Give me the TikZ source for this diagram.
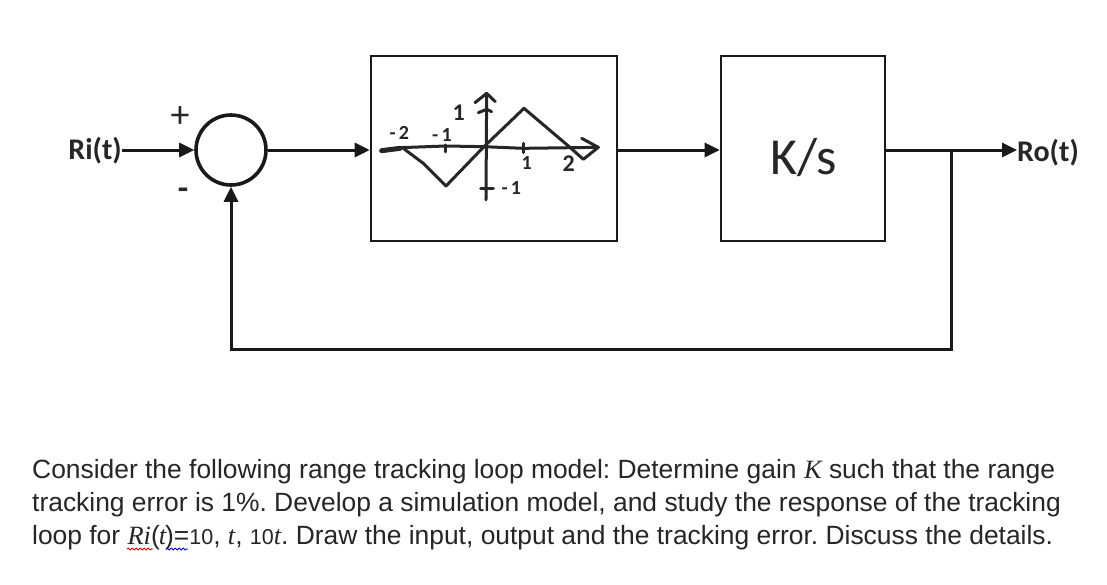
\documentclass[tikz,border=0pt]{standalone}
\usepackage{fontspec}
\setmainfont{Liberation Sans}
\newfontfamily\lblfont{Carlito}
\newfontfamily\mathserif{Liberation Serif}
\usetikzlibrary{arrows.meta,decorations.pathmorphing}
\newcommand{\mv}[1]{{\mathserif\itshape #1}}
\newcommand{\smalldigits}[1]{{\fontsize{21.5}{21.5}\selectfont #1}}
\tikzset{
  blockbox/.style={draw=black!90,line width=2.6pt,inner sep=0pt,fill=white},
  sumnode/.style={draw=black!90,line width=3.6pt,circle,minimum size=70pt,inner sep=0pt},
  wire/.style={draw=black!90,line width=3pt},
  arrowwire/.style={wire,-{Triangle[length=15pt,width=14pt]}},
  lbl/.style={font=\lblfont\bfseries\fontsize{30}{30}\selectfont,text=black!85,inner sep=0pt},
  sign/.style={font=\lblfont\fontsize{38}{38}\selectfont,text=black!85,inner sep=0pt},
  sketch/.style={draw=black!85,line width=3pt,line join=round,line cap=round},
  hand/.style={font=\lblfont\bfseries\fontsize{20}{20}\selectfont,text=black!85,inner sep=0pt},
  para/.style={anchor=west,inner sep=0pt,text=black!85,font=\fontsize{26.4}{26.4}\selectfont},
  squig/.style={line width=.9pt,decorate,decoration={snake,amplitude=.9pt,segment length=4pt}}
}
\begin{document}
\frenchspacing
\begin{tikzpicture}[x=1pt,y=-1pt]
\useasboundingbox (0,0) rectangle (1107,584);
\fill[white] (0,0) rectangle (1107,584);
% blocks
\node[sumnode] (sum) at (231,150) {};
\node[blockbox,minimum width=246pt,minimum height=185pt] (nl) at (494,148.5) {};
\node[blockbox,minimum width=164pt,minimum height=185pt] (ks) at (803,148.5) {};
\node[font=\lblfont\fontsize{52}{52}\selectfont,text=black!85,inner sep=0pt] (kstext) at (804,158) {K/s};
\node[lbl,anchor=east] (ri) at (122,151) {Ri(t)};
\node[lbl,anchor=west] (ro) at (1017,153) {Ro(t)};
\node[sign] (plus) at (180,117) {+};
\node[sign,font=\lblfont\bfseries\fontsize{34}{34}\selectfont] (minus) at (183,194) {-};
\coordinate (tap) at (951,150);
\coordinate (fbr) at (951,349);
\coordinate (fbl) at (231,349);
% connectors
\draw[arrowwire] (ri.east |- sum) -- (sum.west);
\draw[arrowwire] (sum.east) -- (nl.west |- sum);
\draw[arrowwire] (nl.east |- sum) -- (ks.west |- sum);
\draw[arrowwire] (ks.east |- sum) -- (ro.west |- sum);
\draw[arrowwire] (tap) -- (fbr) -- (fbl) -- (sum.south);
% hand sketch
\begin{scope}[shift={(370,60)},x=0.3333pt,y=-0.3333pt]
\draw[sketch,line width=5pt] (35,272) -- (90,265);
\draw[sketch] (90,263) -- (228,258) -- (340,260) -- (460,265) -- (685,262);
\draw[sketch] (635,235) -- (685,262) -- (640,298) -- (600,262);
\draw[sketch] (100,265) -- (160,310) -- (228,378) -- (340,262) -- (462,145) -- (600,262);
\draw[sketch] (350,100) -- (348,420);
\draw[sketch] (315,128) -- (350,100) -- (376,125);
\draw[sketch] (325,158) -- (350,148) -- (365,155);
\draw[sketch] (332,385) -- (370,385);
\draw[sketch] (228,255) -- (228,276);
\draw[sketch] (460,250) -- (460,278);
\node[hand] (hm2) at (88,218) {-\,2};
\node[hand] (hm1) at (216,224) {-\,1};
\node[hand,font=\lblfont\bfseries\fontsize{24}{24}\selectfont] (h1) at (266,158) {1};
\node[hand] (hb1) at (470,310) {1};
\node[hand,font=\lblfont\bfseries\fontsize{24}{24}\selectfont] (h2) at (596,310) {2};
\node[hand] (hvm1) at (424,385) {-\,1};
\end{scope}
% text
\node[para] (l1) at (32,472) {Consider the following range tracking loop model: Determine gain \mv{K} such that the range};
\node[para] (l2) at (32,505) {tracking error is 1\%. Develop a simulation model, and study the response of the tracking};
\node[para] (l3) at (32,538) {loop for \mv{Ri}(\hspace{-1pt}\mv{t}\hspace{-1pt})=\smalldigits{10}, \mv{t}, \smalldigits{10}\mv{t}. Draw the input, output and the tracking error. Discuss the details.};
\coordinate (r1) at (127,549);\coordinate (r2) at (153,549);
\coordinate (b1) at (166,549);\coordinate (b2) at (188,549);
\draw[squig,red!80!black] (r1) -- (r2);
\draw[squig,blue!80!black] (b1) -- (b2);
\end{tikzpicture}
\end{document}
